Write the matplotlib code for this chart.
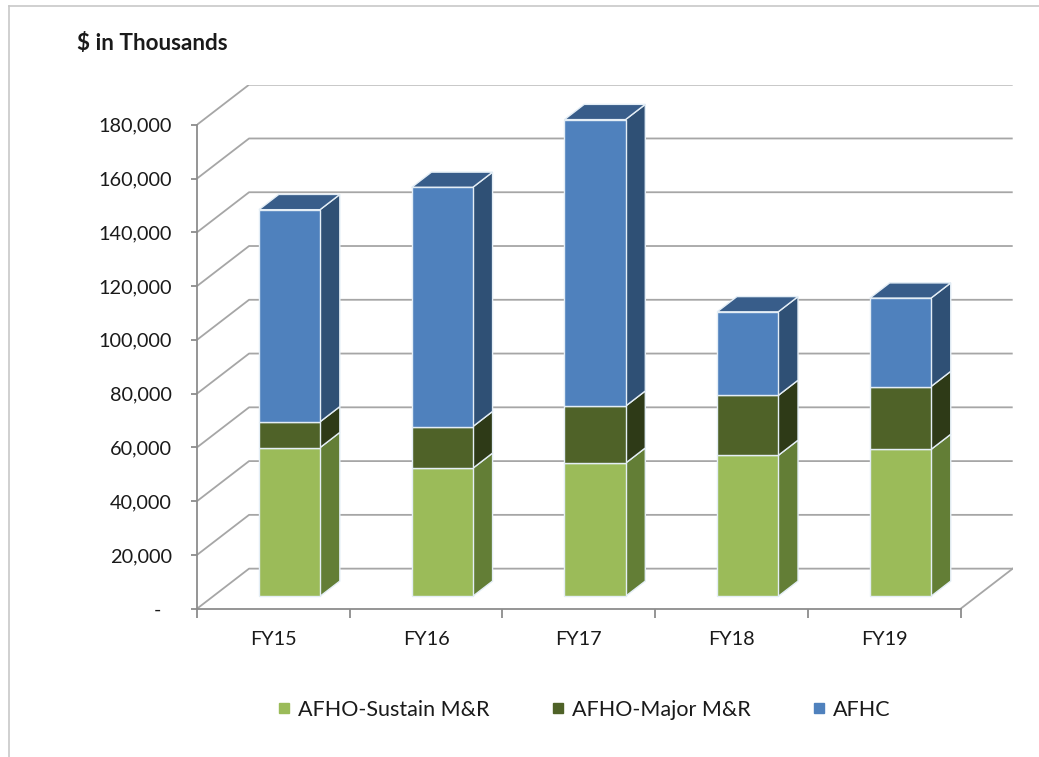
import matplotlib
matplotlib.use('Agg')
import matplotlib.pyplot as plt
from matplotlib.patches import Polygon
from matplotlib.lines import Line2D
import numpy as np

plt.rcParams['font.family'] = ['Lato', 'DejaVu Sans']

# data ($ in thousands)
years = ['FY15', 'FY16', 'FY17', 'FY18', 'FY19']
sustain = [55300, 47600, 49500, 52400, 54600]
major = [9600, 15500, 21200, 22300, 23400]
afhc = [78900, 89000, 106600, 31100, 32900]
series_names = ['AFHO-Sustain M&R', 'AFHO-Major M&R', 'AFHC']
yticks = list(range(0, 180001, 20000))

# colours: front, side, top
front = ['#9BBB59', '#4F6228', '#4F81BD']
side = ['#637E36', '#2E3A17', '#2F5075']
top = ['#9BBB59', '#4F6228', '#385D8A']
edge = '#E4EEF6'
grid_c = '#A6A6A6'
axis_c = '#8C8C8C'
txt_c = '#1A1A1A'

# fake 3d geometry (depth offset in data units)
n = len(years)
DX = 0.3408          # depth shift along x (categories)
DY = 14900           # depth shift along y (values)
z0, z1 = 0.31, 0.69  # bar front/back depth as fraction of box
bw = 0.4

fig = plt.figure(figsize=(10.39, 7.57), dpi=100)
ax = fig.add_axes([197 / 1039, 148.3 / 757, 815.7 / 1039, 524 / 757])
ax.set_xlim(0, n + DX)
ax.set_ylim(0, 180000 + DY)

# walls / gridlines
for v in yticks:
    ax.plot([0, DX, n + DX], [v, v + DY, v + DY], color=grid_c, lw=1.3, zorder=1,
            solid_capstyle='butt')
ax.plot([n, n + DX], [0, DY], color=grid_c, lw=1.3, zorder=1)

# stacked bars
stack = np.array([sustain, major, afhc], dtype=float)
bottoms = np.vstack([np.zeros(n), np.cumsum(stack, axis=0)[:-1]])
x = np.arange(n)
xl = x + 0.5 - bw / 2 + z0 * DX
dz = z1 - z0
for k in range(3):
    ax.bar(xl, stack[k], width=bw, bottom=bottoms[k] + z0 * DY, align='edge',
           color=front[k], edgecolor=edge, linewidth=1.0, zorder=4)
    for i in range(n):
        yb = bottoms[k][i] + z0 * DY
        yt = yb + stack[k][i]
        xr = xl[i] + bw
        ax.add_patch(Polygon([(xr, yb), (xr + dz * DX, yb + dz * DY),
                              (xr + dz * DX, yt + dz * DY), (xr, yt)],
                             closed=True, facecolor=side[k], edgecolor=edge,
                             linewidth=1.0, zorder=3))
        if k == 2:
            ax.add_patch(Polygon([(xl[i], yt), (xr, yt), (xr + dz * DX, yt + dz * DY),
                                  (xl[i] + dz * DX, yt + dz * DY)],
                                 closed=True, facecolor=top[k], edgecolor=edge,
                                 linewidth=1.0, zorder=3))

# axes
for s in ['top', 'right']:
    ax.spines[s].set_visible(False)
ax.spines['left'].set_bounds(0, 180000)
ax.spines['bottom'].set_bounds(0, n)
for s in ['left', 'bottom']:
    ax.spines[s].set_color(axis_c)
    ax.spines[s].set_linewidth(1.3)
    ax.spines[s].set_zorder(5)

ax.set_yticks(yticks)
ax.set_yticklabels(['-  '] + ['{:,}'.format(v) for v in yticks[1:]])
ax.tick_params(axis='y', length=4.5, width=1.3, color=axis_c, pad=13.5,
               labelsize=14.3, labelcolor=txt_c)
ax.set_xticks(np.arange(n + 1))
ax.set_xticklabels([])
ax.set_xticks(x + 0.5, minor=True)
ax.set_xticklabels(years, minor=True)
ax.tick_params(axis='x', which='major', length=6.5, width=1.3, color=axis_c)
ax.tick_params(axis='x', which='minor', length=0, pad=16, labelsize=14.3,
               labelcolor=txt_c)

# title
fig.text(77 / 1039, 1 - 44 / 757, '$ in Thousands', fontsize=16.2, fontweight='bold',
         color=txt_c, ha='left', va='center')

# legend
handles = [Line2D([], [], marker='s', linestyle='none', markersize=6.5,
                  markerfacecolor=c, markeredgecolor=c) for c in front]
fig.legend(handles, series_names, loc='center', bbox_to_anchor=(584 / 1039, 1 - 710 / 757),
           ncol=3, frameon=False, fontsize=15.5, handlelength=0.6, handletextpad=0.35,
           columnspacing=2.86, labelcolor=txt_c)

# chart area border (left and top visible)
fig.add_artist(Line2D([9 / 1039, 9 / 1039], [0, 1 - 6 / 757], color='#C8C8C8', lw=1.2))
fig.add_artist(Line2D([9 / 1039, 1], [1 - 6 / 757, 1 - 6 / 757], color='#C8C8C8', lw=1.2))

fig.savefig('out.png', dpi=100)
